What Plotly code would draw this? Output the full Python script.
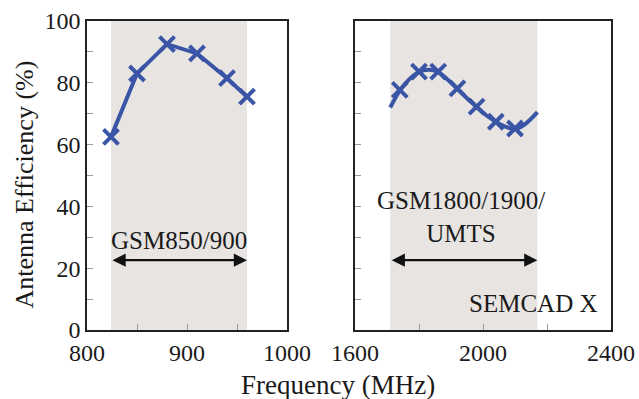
import plotly.graph_objects as go

# ---- data ----
left_freq = [824, 850, 880, 910, 940, 960]
left_eff = [62.5, 83, 92.5, 89.5, 81.5, 75.5]

right_curve_freq = [1710, 1740, 1770, 1800, 1830, 1860, 1890, 1920, 1950, 1980, 2010, 2040, 2070, 2100, 2130, 2170]
right_curve_eff = [72, 77.5, 81.2, 83.5, 84.2, 83.5, 81, 78, 75, 72.2, 69.5, 67.4, 65.8, 65, 66.5, 70.5]
right_marker_freq = [1740, 1800, 1860, 1920, 1980, 2040, 2100]
right_marker_eff = [77.7, 83.6, 83.6, 78.2, 72.3, 67.4, 65.2]

band_low = [824, 960]
band_high = [1710, 2170]
band_labels = ["GSM850/900", "GSM1800/1900/<br>UMTS"]

y_ticks = [0, 20, 40, 60, 80, 100]

BLUE = "#3a55a6"
FONT = "Liberation Serif, Times New Roman, Times, serif"
SHADE = "#e7e4e2"
TXT = "#1a1a1a"

fig = go.Figure()

fig.add_trace(go.Scatter(
    x=left_freq, y=left_eff, mode="lines+markers",
    line=dict(color=BLUE, width=4),
    marker=dict(symbol="x-thin", size=15, line=dict(color=BLUE, width=4)),
    xaxis="x", yaxis="y", showlegend=False))

fig.add_trace(go.Scatter(
    x=right_curve_freq, y=right_curve_eff, mode="lines",
    line=dict(color=BLUE, width=4, shape="spline"),
    xaxis="x2", yaxis="y2", showlegend=False))
fig.add_trace(go.Scatter(
    x=right_marker_freq, y=right_marker_eff, mode="markers",
    marker=dict(symbol="x-thin", size=15, line=dict(color=BLUE, width=4)),
    xaxis="x2", yaxis="y2", showlegend=False))

axis_common = dict(
    showline=True, linecolor="#222", linewidth=1.5, mirror=True,
    ticks="inside", tickcolor="#999", ticklen=6, tickwidth=1,
    showgrid=False, zeroline=False, automargin=False,
    tickfont=dict(family=FONT, size=24, color=TXT),
)

fig.update_layout(
    width=639, height=399,
    margin=dict(l=87, r=28, t=21, b=69),
    paper_bgcolor="white", plot_bgcolor="white",
    font=dict(family=FONT, color=TXT),
    xaxis=dict(domain=[0, 200 / 524], range=[800, 1000], dtick=100, tick0=800,
               minor=dict(dtick=50, ticks="inside", ticklen=6, tickcolor="#999"),
               anchor="y", **axis_common),
    yaxis=dict(domain=[0, 1], range=[0, 100], tickvals=y_ticks,
               minor=dict(dtick=10, ticks="inside", ticklen=6, tickcolor="#999"),
               anchor="x", **axis_common),
    xaxis2=dict(domain=[268 / 524, 1], range=[1600, 2400], dtick=400, tick0=1600,
                minor=dict(dtick=200, ticks="inside", ticklen=6, tickcolor="#999"),
                anchor="y2", **axis_common),
    yaxis2=dict(domain=[0, 1], range=[0, 100], tickvals=y_ticks, showticklabels=False,
                minor=dict(dtick=10, ticks="inside", ticklen=6, tickcolor="#999"),
                anchor="x2", **axis_common),
)

# shaded bands
fig.add_shape(type="rect", xref="x", yref="y", x0=band_low[0], x1=band_low[1], y0=0, y1=100,
              fillcolor=SHADE, line=dict(width=0), layer="below")
fig.add_shape(type="rect", xref="x2", yref="y2", x0=band_high[0], x1=band_high[1], y0=0, y1=100,
              fillcolor=SHADE, line=dict(width=0), layer="below")

# arrows
fig.add_annotation(xref="x", yref="y", axref="x", ayref="y",
                   x=band_low[1], y=22.6, ax=band_low[0], ay=22.6, text="",
                   showarrow=True, arrowhead=2, arrowside="end+start", arrowsize=1.2,
                   arrowwidth=2.2, arrowcolor="#111")
fig.add_annotation(xref="x2", yref="y2", axref="x2", ayref="y2",
                   x=band_high[1], y=22.6, ax=band_high[0], ay=22.6, text="",
                   showarrow=True, arrowhead=2, arrowside="end+start", arrowsize=1.2,
                   arrowwidth=2.2, arrowcolor="#111")

fig.add_annotation(xref="x", yref="y", x=(band_low[0] + band_low[1]) / 2, y=29,
                   text=band_labels[0], showarrow=False,
                   font=dict(family=FONT, size=25, color=TXT))
fig.add_annotation(xref="x2", yref="y2", x=1930, y=36.5,
                   text=band_labels[1], showarrow=False, yanchor="middle",
                   font=dict(family=FONT, size=25, color=TXT))
fig.add_annotation(xref="x2", yref="y2", x=2365, y=8.7, xanchor="right",
                   text="SEMCAD X", showarrow=False,
                   font=dict(family=FONT, size=25, color=TXT))

# axis titles
fig.add_annotation(xref="paper", yref="paper", x=(24 - 87) / 524, y=(330 - 184.5) / 309,
                   xanchor="center", yanchor="middle",
                   text="Antenna Efficiency (%)", textangle=-90, showarrow=False,
                   font=dict(family=FONT, size=26, color=TXT))
fig.add_annotation(xref="paper", yref="paper", x=(338 - 87) / 524, y=(330 - 385) / 309,
                   xanchor="center", yanchor="middle",
                   text="Frequency (MHz)", showarrow=False,
                   font=dict(family=FONT, size=27, color=TXT))

fig.write_html(
    "out.html",
    config={"displayModeBar": False},
    post_script="document.body.style.margin='0';document.body.style.overflow='hidden';",
)
